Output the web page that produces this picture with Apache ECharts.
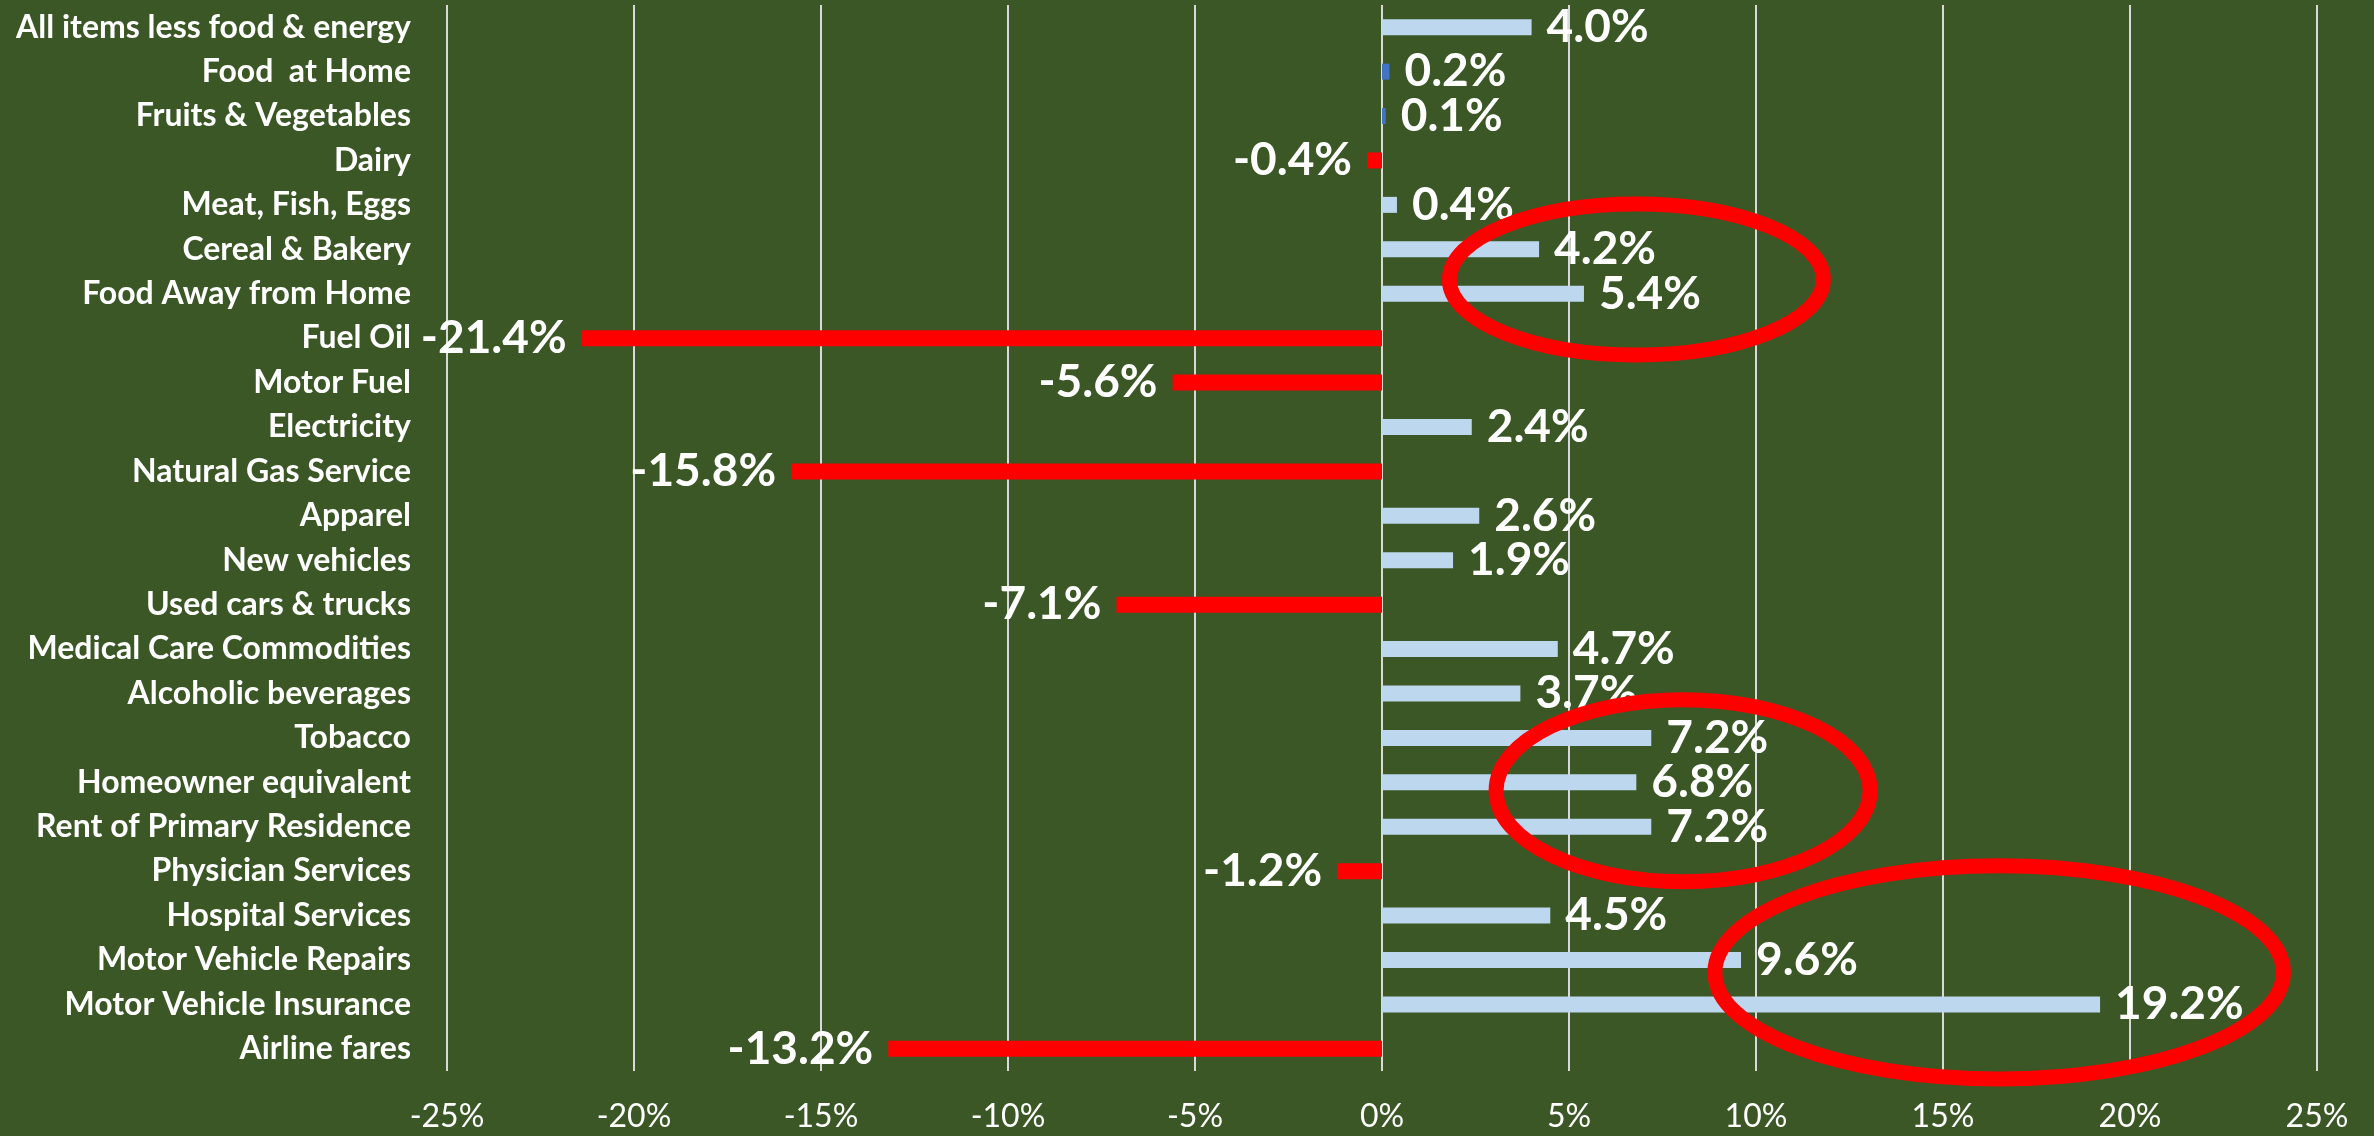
<!DOCTYPE html>
<html>
<head>
<meta charset="utf-8">
<title>CPI changes by item</title>
<script src="https://cdn.jsdelivr.net/npm/echarts@6/dist/echarts.min.js"></script>
<style>
  html, body { margin: 0; padding: 0; background: #3A5725; }
  #main { width: 2374px; height: 1136px; }
</style>
</head>
<body>
<div id="main"></div>
<script type="text/javascript">
// items, top to bottom
var categories = [
  'All items less food & energy', 'Food  at Home', 'Fruits & Vegetables', 'Dairy',
  'Meat, Fish, Eggs', 'Cereal & Bakery', 'Food Away from Home', 'Fuel Oil',
  'Motor Fuel', 'Electricity', 'Natural Gas Service', 'Apparel',
  'New vehicles', 'Used cars & trucks', 'Medical Care Commodities', 'Alcoholic beverages',
  'Tobacco', 'Homeowner equivalent', 'Rent of Primary Residence', 'Physician Services',
  'Hospital Services', 'Motor Vehicle Repairs', 'Motor Vehicle Insurance', 'Airline fares'
];
// % change
var changes = [
  4.0, 0.2, 0.1, -0.4,
  0.4, 4.2, 5.4, -21.4,
  -5.6, 2.4, -15.8, 2.6,
  1.9, -7.1, 4.7, 3.7,
  7.2, 6.8, 7.2, -1.2,
  4.5, 9.6, 19.2, -13.2
];
// items drawn in the darker blue
var darkItems = ['Food  at Home', 'Fruits & Vegetables'];
var tickMin = -25, tickMax = 25, tickStep = 5;

// hand-drawn ovals, in data units (value %, row index)
var ovalCenterValue = [6.8, 8.05, 16.5];
var ovalCenterRow = [5.68, 17.19, 21.28];
var ovalHalfValue = [5.0, 5.0, 7.6];
var ovalHalfRows = [1.7, 2.05, 2.4];

var myChart = echarts.init(document.getElementById('main'));

var barData = changes.map(function (v, i) {
  var c = v < 0 ? '#FF0000' : (darkItems.indexOf(categories[i]) >= 0 ? '#4472C4' : '#BDD7EE');
  return { value: v, itemStyle: { color: c } };
});

var option = {
  backgroundColor: '#3A5725',
  animation: false,
  grid: { left: 447, right: 57, top: 5, bottom: 65 },
  xAxis: {
    type: 'value',
    min: tickMin, max: tickMax, interval: tickStep,
    axisLine: { show: false },
    axisTick: { show: false },
    splitLine: { show: true, lineStyle: { color: '#D9D9D9', width: 2 } },
    axisLabel: {
      formatter: '{value}%', color: '#FFFFFF',
      fontFamily: 'Lato', fontSize: 32, margin: 30
    }
  },
  yAxis: {
    type: 'category',
    inverse: true,
    data: categories,
    axisLine: { show: false },
    axisTick: { show: false },
    axisLabel: {
      interval: 0, color: '#FFFFFF', fontFamily: 'Lato',
      fontWeight: 'bold', fontSize: 32, margin: 36
    }
  },
  series: [{
    type: 'bar',
    data: barData,
    barWidth: 16,
    label: {
      show: true,
      position: 'outside',
      distance: 15,
      color: '#FFFFFF',
      fontFamily: 'Lato',
      fontWeight: 'bold',
      fontSize: 46,
      formatter: function (p) { return p.value.toFixed(1) + '%'; }
    }
  }]
};
myChart.setOption(option);

// ovals on top
var row0 = myChart.convertToPixel({ yAxisIndex: 0 }, categories[0]);
var row1 = myChart.convertToPixel({ yAxisIndex: 0 }, categories[1]);
var step = row1 - row0;
var ovals = ovalCenterValue.map(function (v, i) {
  var cx = myChart.convertToPixel({ xAxisIndex: 0 }, v);
  var rx = myChart.convertToPixel({ xAxisIndex: 0 }, v + ovalHalfValue[i]) - cx;
  return {
    type: 'ellipse',
    z: 100,
    shape: { cx: cx, cy: row0 + step * ovalCenterRow[i], rx: rx, ry: step * ovalHalfRows[i] },
    style: { fill: 'none', stroke: '#FF0000', lineWidth: 15 }
  };
});
myChart.setOption({ graphic: ovals });
</script>
</body>
</html>
